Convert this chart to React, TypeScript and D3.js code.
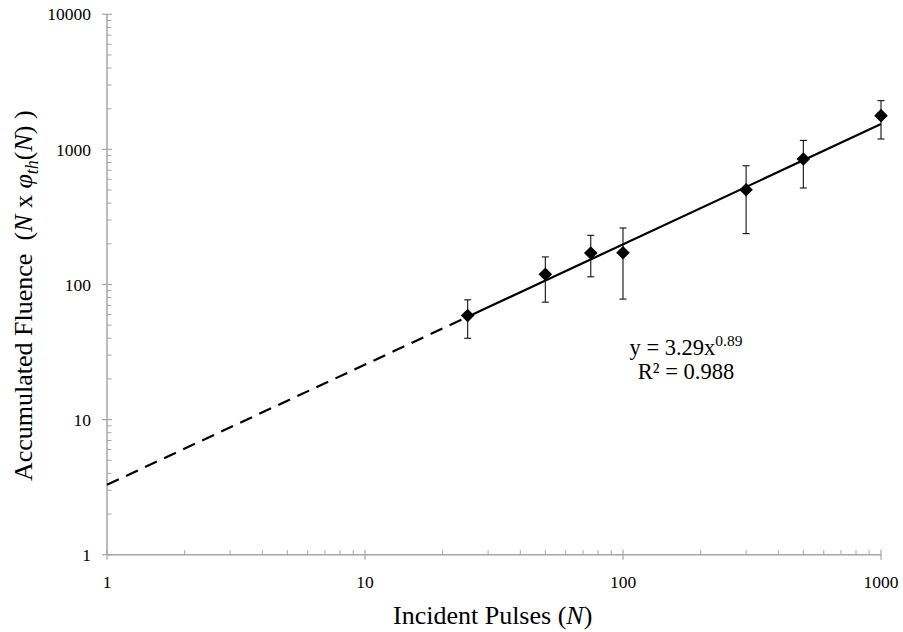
import React from "react";
import * as d3 from "d3";

const pulses = [25, 50, 75, 100, 300, 500, 1000];
const fluence = [59, 119, 171, 172, 503, 849, 1777];
const errHigh = [77, 160, 231, 262, 757, 1166, 2296];
const errLow = [40, 74, 114, 78, 238, 518, 1194];
const xTicks = [1, 10, 100, 1000];
const yTicks = [1, 10, 100, 1000, 10000];
const fitA = 3.29;
const fitB = 0.89;
const fitStart = 1;
const fitSolidStart = 25;
const fitEnd = 1000;

const W = 903;
const H = 632;
const FONT = "'Liberation Serif', 'Times New Roman', serif";
const AX = "#a6a6a6";

export default function App() {
  const x = d3.scaleLog().domain([1, 1000]).range([107, 881]);
  const y = d3.scaleLog().domain([1, 10000]).range([554.7, 14.3]);

  const minorX: number[] = [];
  const minorY: number[] = [];
  for (let d = 1; d < 1000; d *= 10) for (let k = 2; k <= 9; k++) minorX.push(d * k);
  for (let d = 1; d < 10000; d *= 10) for (let k = 2; k <= 9; k++) minorY.push(d * k);

  const fit = (v: number) => fitA * Math.pow(v, fitB);
  const line = d3
    .line<number>()
    .x((v) => x(v))
    .y((v) => y(fit(v)));
  const dashed = line([fitStart, fitSolidStart]) || "";
  const solid = line([fitSolidStart, fitEnd]) || "";

  const diamond = d3.symbol().type(d3.symbolDiamond2).size(118)() || "";

  return (
    <svg width={W} height={H} style={{ position: "absolute", left: 0, top: 0 }} fontFamily={FONT}>
      <rect width={W} height={H} fill="#fff" />
      {/* axes */}
      <line x1={x(1)} x2={x(1)} y1={y(10000)} y2={y(1)} stroke={AX} strokeWidth={1.5} />
      <line x1={x(1)} x2={x(1000)} y1={y(1)} y2={y(1)} stroke={AX} strokeWidth={1.5} />
      {yTicks.map((t) => (
        <g key={"yt" + t}>
          <line x1={x(1) - 5} x2={x(1) + 5} y1={y(t)} y2={y(t)} stroke={AX} strokeWidth={1.2} />
          <text x={91} y={y(t)} dy="0.35em" textAnchor="end" fontSize={17.5}>
            {t}
          </text>
        </g>
      ))}
      {minorY.map((t) => (
        <line key={"ym" + t} x1={x(1)} x2={x(1) + 4.5} y1={y(t)} y2={y(t)} stroke={AX} strokeWidth={1} />
      ))}
      {xTicks.map((t) => (
        <g key={"xt" + t}>
          <line x1={x(t)} x2={x(t)} y1={y(1) - 5} y2={y(1) + 5} stroke={AX} strokeWidth={1.2} />
          <text x={x(t)} y={588} textAnchor="middle" fontSize={17.5}>
            {t}
          </text>
        </g>
      ))}
      {minorX.map((t) => (
        <line key={"xm" + t} x1={x(t)} x2={x(t)} y1={y(1)} y2={y(1) - 4.5} stroke={AX} strokeWidth={1} />
      ))}

      {/* trend line */}
      <path d={dashed} fill="none" stroke="#000" strokeWidth={2.2} strokeDasharray="13,8" />
      <path d={solid} fill="none" stroke="#000" strokeWidth={2.2} />

      {/* error bars */}
      {pulses.map((p, i) => (
        <g key={"e" + p} stroke="#111" strokeWidth={1.1}>
          <line x1={x(p)} x2={x(p)} y1={y(errHigh[i])} y2={y(errLow[i])} />
          <line x1={x(p) - 3.5} x2={x(p) + 3.5} y1={y(errHigh[i])} y2={y(errHigh[i])} />
          <line x1={x(p) - 3.5} x2={x(p) + 3.5} y1={y(errLow[i])} y2={y(errLow[i])} />
        </g>
      ))}
      {/* markers */}
      {pulses.map((p, i) => (
        <path key={"m" + p} d={diamond} transform={`translate(${x(p)},${y(fluence[i])})`} fill="#000" />
      ))}

      {/* equation */}
      <text x={686} y={355} textAnchor="middle" fontSize={22.5}>
        y = 3.29x<tspan dy={-9} fontSize={15.5}>0.89</tspan>
      </text>
      <text x={686} y={379} textAnchor="middle" fontSize={22.5}>
        R² = 0.988
      </text>

      {/* axis titles */}
      <text x={393} y={624} textAnchor="start" fontSize={26}>
        Incident Pulses (<tspan fontStyle="italic">N</tspan>)
      </text>
      <text transform="translate(32,481) rotate(-90)" textAnchor="start" fontSize={26}>
        Accumulated Fluence{"\u00a0\u00a0"}(<tspan fontStyle="italic">N</tspan> x{" "}
        <tspan fontStyle="italic">φ</tspan>
        <tspan fontStyle="italic" fontSize={18} dy={6}>th</tspan>
        <tspan dy={-6}>(</tspan>
        <tspan fontStyle="italic">N</tspan>) )
      </text>
    </svg>
  );
}
